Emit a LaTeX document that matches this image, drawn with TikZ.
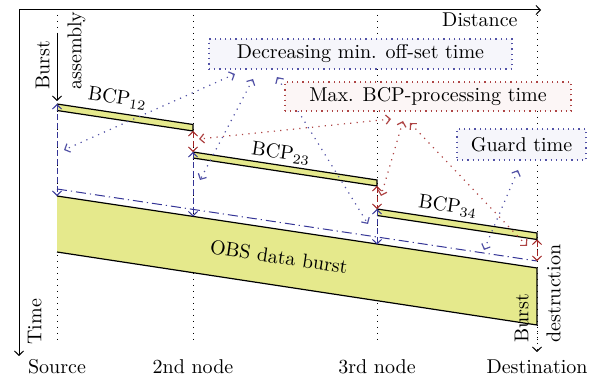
\documentclass[tikz,border=0pt]{standalone}
\usetikzlibrary{arrows.meta}
\definecolor{bcpyellow}{RGB}{229,233,140}
\definecolor{offblue}{RGB}{52,52,150}
\definecolor{procred}{RGB}{160,35,35}
\definecolor{noteblue}{RGB}{246,246,251}
\definecolor{notered}{RGB}{252,246,246}
\tikzset{
  axis/.style={->,line width=0.5pt},
  column/.style={dash pattern=on 0.5pt off 2.5pt,line width=0.5pt},
  packet/.style={fill=bcpyellow},
  edge/.style={line width=0.6pt},
  offset/.style={<->,offblue,dash pattern=on 3pt off 1.5pt,line width=0.5pt},
  proc/.style={<->,procred,dash pattern=on 3pt off 1.5pt,line width=0.5pt},
  guardline/.style={offblue,dash pattern=on 5pt off 2pt on 0.6pt off 2pt,line width=0.5pt},
  pointer/.style={<->,dash pattern=on 0.6pt off 2.6pt,line width=0.6pt},
  note/.style={draw,dash pattern=on 0.6pt off 2pt,line width=0.6pt,inner sep=0pt},
}
\begin{document}
\begin{tikzpicture}[>={Straight Barb[length=2.2pt,width=4.6pt]},x=0.5pt,y=-0.5pt]
\useasboundingbox (0,0) rectangle (595,379);
% node columns
\foreach \name/\x in {src/57,nda/193,ndb/377,dst/537}{
  \coordinate (\name-top) at (\x,15);
  \coordinate (\name-bot) at (\x,340);
  \draw[column] (\name-top) -- (\name-bot);
}
% axes
\coordinate (orig) at (19,10);
\coordinate (distend) at (541,10);
\coordinate (timeend) at (19,356);
\draw[axis] (orig) -- (distend);
\draw[axis] (orig) -- (timeend);
\node[anchor=north east,inner sep=0] (dist) at (518,12) {Distance};
\node[rotate=90,anchor=south west,inner sep=0] (time) at (42,345) {Time};
% control packets and data burst
\coordinate (p12s) at (57,104);   \coordinate (p12e) at (193,124.5);
\coordinate (p12f) at (193,131);  \coordinate (p12g) at (57,110.5);
\coordinate (p23s) at (193,152);  \coordinate (p23e) at (377,180);
\coordinate (p23f) at (377,186);  \coordinate (p23g) at (193,158);
\coordinate (p34s) at (377,209);  \coordinate (p34e) at (537,233);
\coordinate (p34f) at (537,239.5);\coordinate (p34g) at (377,215.5);
\coordinate (bs) at (57,196);     \coordinate (be) at (537,268);
\coordinate (bf) at (537,325);    \coordinate (bg) at (57,252);
\coordinate (bma) at (193,216.5); \coordinate (bmb) at (377,244.5);
\foreach \a/\b/\c/\d in {p12s/p12e/p12f/p12g,p23s/p23e/p23f/p23g,p34s/p34e/p34f/p34g,bs/be/bf/bg}{
  \fill[packet] (\a) -- (\b) -- (\c) -- (\d) -- cycle;
  \draw[edge] (\a) -- (\b) -- (\c) -- (\d);
}
\node[rotate=-8.6] (l12) at (117.5,98) {BCP$_{12}$};
\node[rotate=-8.6] (l23) at (281,153) {BCP$_{23}$};
\node[rotate=-8.6] (l34) at (448,206) {BCP$_{34}$};
\node[rotate=-8.6] (obs) at (279,257) {OBS data burst};
% guard line
\coordinate (gs) at (57,189);
\coordinate (ge) at (537,261);
\draw[guardline] (gs) -- (ge);
% offset and processing times
\draw[offset] (p12s) -- (bs);
\draw[offset] (p23s) -- (bma);
\draw[offset] (p34s) -- (bmb);
\draw[proc] (p12f) -- (p23s);
\draw[proc] (p23f) -- (p34s);
\draw[proc] (p34f) -- (ge);
% assembly and destruction
\coordinate (asm-top) at (57,33);
\coordinate (asm-end) at (57,101);
\draw[axis] (asm-top) -- (asm-end);
\node[rotate=90,anchor=south west,inner sep=0] (asm1) at (50,90) {Burst};
\node[rotate=90,anchor=north west,inner sep=0] (asm2) at (67,90) {assembly};
\coordinate (dst-end) at (537,352);
\draw[axis,dash pattern=on 0.5pt off 2.5pt] (bf) -- (dst-end);
\node[rotate=90,anchor=south west,inner sep=0] (des1) at (529,343) {Burst};
\node[rotate=90,anchor=north west,inner sep=0] (des2) at (546,343) {destruction};
% pointers
\coordinate (da) at (235,74);  \coordinate (oa) at (64,150);
\coordinate (db) at (253,79);  \coordinate (ob) at (200,180);
\coordinate (dc) at (277,77);  \coordinate (oc) at (368,224);
\coordinate (ma) at (391,119); \coordinate (ra) at (199,139);
\coordinate (mb) at (403,121); \coordinate (rb) at (381,196);
\coordinate (mc) at (410,123); \coordinate (rc) at (527,246);
\coordinate (ga) at (518,170); \coordinate (gb) at (484,250);
\draw[pointer,offblue!85] (da) -- (oa);
\draw[pointer,offblue!85] (db) -- (ob);
\draw[pointer,offblue!85] (dc) -- (oc);
\draw[pointer,procred!85] (ma) -- (ra);
\draw[pointer,procred!85] (mb) -- (rb);
\draw[pointer,procred!85] (mc) -- (rc);
\draw[pointer,offblue!85] (ga) -- (gb);
% notes
\node[note,draw=offblue!85,fill=noteblue,minimum width=151.5pt,minimum height=15pt] (dec) at (360.5,54) {Decreasing min. off-set time};
\node[note,draw=procred!85,fill=notered,minimum width=143pt,minimum height=14.5pt] (max) at (428,96.5) {Max. BCP-processing time};
\node[note,draw=offblue!85,fill=noteblue,minimum width=64.5pt,minimum height=15.5pt] (grd) at (521.5,144.5) {Guard time};
% node names
\foreach \name/\x/\txt in {src/57/Source,nda/193/2nd node,ndb/377/3rd node,dst/537/Destination}
  \node[anchor=base] (\name-lab) at (\x,374) {\txt};
\end{tikzpicture}
\end{document}
